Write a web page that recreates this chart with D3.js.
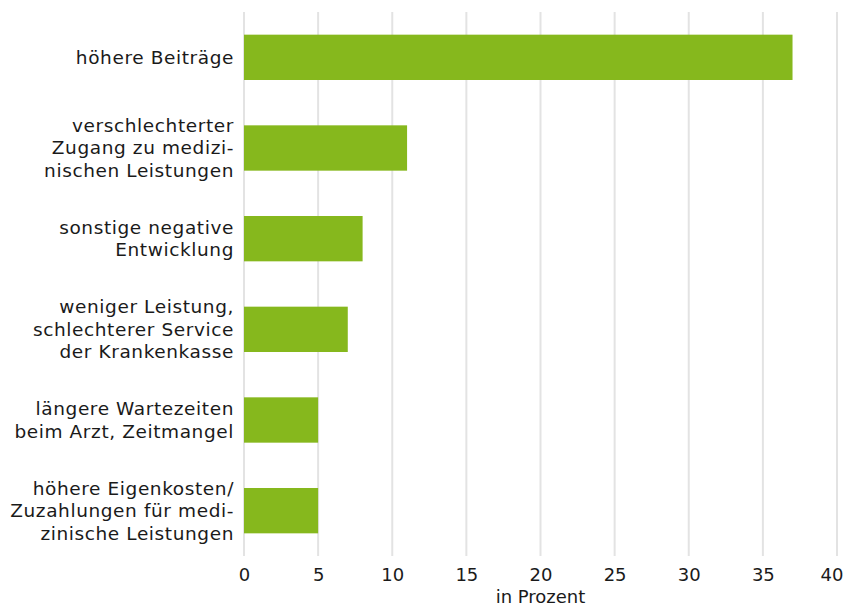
<!DOCTYPE html>
<html>
<head>
<meta charset="utf-8">
<script src="https://cdn.jsdelivr.net/npm/d3@7"></script>
<style>
  body { margin: 0; background: #fff; }
  text { font-family: "DejaVu Sans", sans-serif; fill: #1a1a1a; }
</style>
</head>
<body>
<svg id="chart" width="846" height="606"></svg>
<script>
// categories, each split into the lines shown in the chart
const categories = [
    ["höhere Beiträge"],
    ["verschlechterter", "Zugang zu medizi-", "nischen Leistungen"],
    ["sonstige negative", "Entwicklung"],
    ["weniger Leistung,", "schlechterer Service", "der Krankenkasse"],
    ["längere Wartezeiten", "beim Arzt, Zeitmangel"],
    ["höhere Eigenkosten/", "Zuzahlungen für medi-", "zinische Leistungen"]
];
const values = [37, 11, 8, 7, 5, 5];
const xTicks = [0, 5, 10, 15, 20, 25, 30, 35, 40];
const xTitle = "in Prozent";

const margin = { top: 12, right: 9, bottom: 50, left: 244 };
const width = 846, height = 606;

const svg = d3.select("#chart");

const x = d3.scaleLinear()
    .domain([0, 40])
    .range([margin.left, width - margin.right]);

const y = d3.scaleBand()
    .domain(d3.range(categories.length))
    .range([margin.top, height - margin.bottom])
    .paddingInner(0.5)
    .paddingOuter(0.25);

// grid
svg.append("g")
    .selectAll("line")
    .data(xTicks)
    .join("line")
    .attr("x1", d => x(d))
    .attr("x2", d => x(d))
    .attr("y1", margin.top)
    .attr("y2", height - margin.bottom)
    .attr("stroke", "#e3e3e3")
    .attr("stroke-width", 2);

// bars
svg.append("g")
    .selectAll("rect")
    .data(values)
    .join("rect")
    .attr("x", x(0))
    .attr("y", (d, i) => y(i))
    .attr("width", d => x(d) - x(0))
    .attr("height", y.bandwidth())
    .attr("fill", "#86b81d");

// category labels
const lineH = 22.5;
svg.append("g")
    .selectAll("text")
    .data(categories)
    .join("text")
    .attr("text-anchor", "end")
    .attr("font-size", 18.5)
    .attr("letter-spacing", 0.6)
    .each(function (lines, i) {
        const cy = y(i) + y.bandwidth() / 2;
        const start = cy - (lines.length - 1) * lineH / 2;
        d3.select(this).selectAll("tspan")
            .data(lines)
            .join("tspan")
            .attr("x", x(0) - 10)
            .attr("y", (d, j) => start + j * lineH)
            .attr("dy", "0.35em")
            .text(d => d);
    });

// x axis
const xAxis = d3.axisBottom(x).tickValues(xTicks).tickSize(0).tickPadding(12);
const gx = svg.append("g")
    .attr("transform", `translate(0,${height - margin.bottom})`)
    .call(xAxis);
gx.select(".domain").remove();
gx.selectAll("text")
    .attr("font-size", 18)
    .style("font-family", "DejaVu Sans, sans-serif")
    .attr("fill", "#1a1a1a");
// last tick label is pulled in so it stays inside the frame
gx.selectAll(".tick").filter(d => d === 40).select("text")
    .attr("text-anchor", "end")
    .attr("dx", 6);

svg.append("text")
    .attr("x", (x(0) + x(40)) / 2)
    .attr("y", 603)
    .attr("text-anchor", "middle")
    .attr("font-size", 18)
    .text(xTitle);
</script>
</body>
</html>
